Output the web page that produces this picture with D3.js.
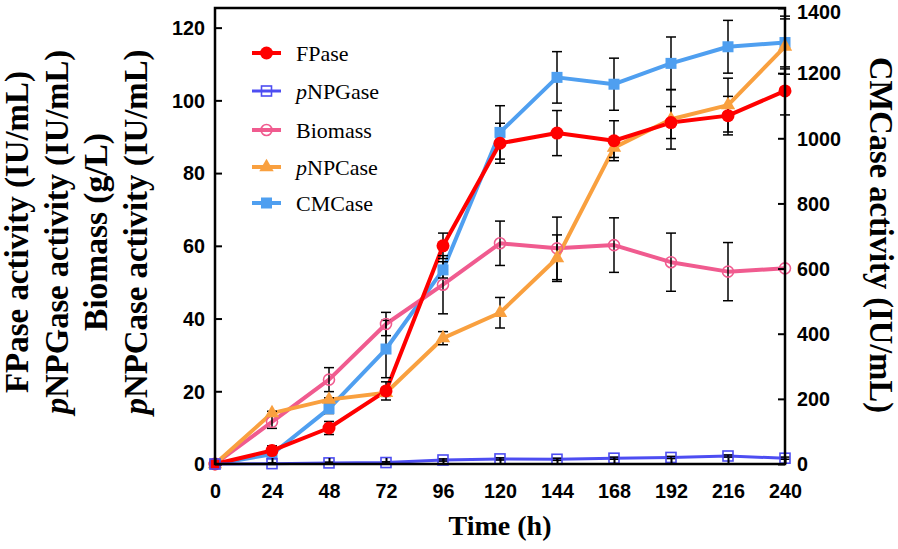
<!DOCTYPE html>
<html><head><meta charset="utf-8">
<script src="https://cdn.jsdelivr.net/npm/d3@7"></script>
<style>body{margin:0;background:#fff}svg{display:block}</style>
</head><body>
<svg id="c" width="898" height="549"></svg>
<script>
const times = [0,24,48,72,96,120,144,168,192,216,240];
const leftTicks = [0,20,40,60,80,100,120];
const rightTicks = [0,200,400,600,800,1000,1200,1400];
const fpase      = [0,3.7,9.9,20.1,60,88.2,91,88.9,93.9,95.8,102.6];
const fpaseErr   = [0,1.3,1.8,2.5,3.5,5.5,6.2,5.5,4.4,5.3,6.6];
const pnpgase    = [0,0.1,0.3,0.4,1.1,1.4,1.3,1.6,1.8,2.2,1.6];
const pnpgaseErr = [0,0.2,0.2,0.2,0.3,0.3,0.3,0.3,0.3,0.3,0.3];
const biomass    = [0,11.6,23.2,38.5,49.3,60.7,59.3,60.2,55.5,52.9,53.8];
const biomassErr = [0,1.8,3.3,3.2,8,6.1,8.6,7.5,8,8,0];
const pnpcase    = [0,14,17.7,19.6,34.6,41.6,56.6,87,94.8,98.7,114.8];
const pnpcaseErr = [0,0.5,0.5,1,1.8,4.2,6.4,2.7,8.2,7.4,7.6];
const cmcase     = [0,30,170,353,596,1018,1187,1166,1230,1281,1294];
const cmcaseErr  = [0,10,15,88,25,82,79,80,81,81,81];

const svg = d3.select('#c');
const L = 215, R = 785, T = 8, B = 464;
const x = d3.scaleLinear().domain([0,240]).range([L,R]);
const yL = d3.scaleLinear().domain([0,125.4]).range([B,T]);
const yR = d3.scaleLinear().domain([0,1400]).range([B,T]);

const tickFont = '"Liberation Sans",Arial,sans-serif';
const serif = '"Liberation Serif","Times New Roman",serif';

const series = [
  {name:'CMCase', it:'', vals:cmcase, err:cmcaseErr, y:yR, color:'#4f9ff0', sym:'square', fill:true, lw:4},
  {name:'Biomass', it:'', vals:biomass, err:biomassErr, y:yL, color:'#f05b8f', sym:'circle', fill:false, lw:4},
  {name:'NPCase', it:'p', vals:pnpcase, err:pnpcaseErr, y:yL, color:'#f9a03f', sym:'triangle', fill:true, lw:4},
  {name:'FPase', it:'', vals:fpase, err:fpaseErr, y:yL, color:'#ff0000', sym:'circle', fill:true, lw:4},
  {name:'NPGase', it:'p', vals:pnpgase, err:pnpgaseErr, y:yL, color:'#4d4df2', sym:'square', fill:false, lw:3}
];

function drawMarker(g, s, cx, cy){
  if (s.sym==='circle'){
    g.append('circle').attr('cx',cx).attr('cy',cy).attr('r', s.fill?6.5:5.5)
      .attr('fill', s.fill?s.color:'none').attr('stroke', s.color).attr('stroke-width', s.fill?0:1.6);
  } else if (s.sym==='square'){
    const h = s.fill?5.5:5;
    g.append('rect').attr('x',cx-h).attr('y',cy-h).attr('width',2*h).attr('height',2*h)
      .attr('fill', s.fill?s.color:'none').attr('stroke', s.color).attr('stroke-width', s.fill?0:1.6);
  } else {
    g.append('path').attr('d', d3.symbol(d3.symbolTriangle, 90)()).attr('transform',`translate(${cx},${cy})`)
      .attr('fill', s.color);
  }
}

// lines
const gLines = svg.append('g');
series.forEach(s=>{
  const line = d3.line().x((d,i)=>x(times[i])).y(d=>s.y(d));
  gLines.append('path').attr('d', line(s.vals)).attr('fill','none').attr('stroke',s.color)
    .attr('stroke-width', s.lw).attr('stroke-linejoin','round');
});
// error bars
const gErr = svg.append('g').attr('stroke','#000').attr('stroke-width',1.5);
series.forEach(s=>{
  s.vals.forEach((v,i)=>{
    const e = s.err[i]; if (!e) return;
    const cx = x(times[i]), y1 = s.y(v+e), y2 = s.y(v-e);
    gErr.append('line').attr('x1',cx).attr('x2',cx).attr('y1',y1).attr('y2',y2);
    gErr.append('line').attr('x1',cx-5).attr('x2',cx+5).attr('y1',y1).attr('y2',y1);
    gErr.append('line').attr('x1',cx-5).attr('x2',cx+5).attr('y1',y2).attr('y2',y2);
  });
});
// markers
const gM = svg.append('g');
series.forEach(s=>{ s.vals.forEach((v,i)=>drawMarker(gM, s, x(times[i]), s.y(v))); });

// frame
svg.append('rect').attr('x',L).attr('y',T).attr('width',R-L).attr('height',B-T)
  .attr('fill','none').attr('stroke','#000').attr('stroke-width',2.5);

// axes
const fmt = d3.format('d');
const ax = svg.append('g').attr('transform',`translate(0,${B})`)
  .call(d3.axisBottom(x).tickValues(times).tickFormat(fmt).tickSize(-6).tickPadding(19));
const ayl = svg.append('g').attr('transform',`translate(${L},0)`)
  .call(d3.axisLeft(yL).tickValues(leftTicks).tickFormat(fmt).tickSize(-7).tickPadding(10));
const ayr = svg.append('g').attr('transform',`translate(${R},0)`)
  .call(d3.axisRight(yR).tickValues(rightTicks).tickFormat(fmt).tickSize(-7).tickPadding(12));
[ax,ayl,ayr].forEach(g=>{
  g.select('.domain').remove();
  g.selectAll('line').attr('stroke','#000').attr('stroke-width',2);
  g.selectAll('text').attr('font-family',tickFont).attr('font-weight','bold')
    .attr('font-size',21).attr('fill','#000')
    .each(function(){ const n=this.getComputedTextLength(); d3.select(this).attr('textLength', n*0.94).attr('lengthAdjust','spacingAndGlyphs'); });
});
// keep the top right label inside the picture
ayr.selectAll('.tick').filter(d=>d===1400).select('text').attr('dy','0.5em');

// axis titles
svg.append('text').attr('x',500).attr('y',535).attr('text-anchor','middle')
  .attr('font-family',serif).attr('font-weight','bold').attr('font-size',28).text('Time (h)');

const leftLines = [
  {xb:28, parts:[['','FPase activity (IU/mL)']], len:322},
  {xb:68, parts:[['i','p'],['','NPGase activity (IU/mL)']], len:364},
  {xb:107, parts:[['','Biomass (g/L)']], len:198},
  {xb:147, parts:[['i','p'],['','NPCase activity (IU/mL)']], len:365}
];
leftLines.forEach(l=>{
  const t = svg.append('text').attr('transform',`translate(${l.xb},232) rotate(-90)`)
    .attr('text-anchor','middle').attr('font-family',serif).attr('font-weight','bold')
    .attr('font-size',33).attr('textLength',l.len).attr('lengthAdjust','spacingAndGlyphs');
  l.parts.forEach(p=>t.append('tspan').attr('font-style',p[0]==='i'?'italic':'normal').text(p[1]));
});
svg.append('text').attr('transform','translate(870,235) rotate(90)')
  .attr('text-anchor','middle').attr('font-family',serif).attr('font-weight','bold')
  .attr('font-size',33).attr('textLength',356).attr('lengthAdjust','spacingAndGlyphs')
  .text('CMCase activity (IU/mL)');

// legend
const legendOrder = ['FPase','NPGase','Biomass','NPCase','CMCase'];
const legendY = [53,91,130,167,203];
const gLeg = svg.append('g');
legendOrder.forEach((n,k)=>{
  const s = series.find(d=>d.name===n);
  const yy = legendY[k];
  gLeg.append('line').attr('x1',252).attr('x2',281).attr('y1',yy).attr('y2',yy)
    .attr('stroke',s.color).attr('stroke-width',s.lw);
  drawMarker(gLeg, s, 266.5, yy);
  const t = gLeg.append('text').attr('x',296).attr('y',yy+8).attr('font-family',serif).attr('font-size',22);
  if (s.it) t.append('tspan').attr('font-style','italic').text(s.it);
  t.append('tspan').text(s.name);
});
</script>
</body></html>
